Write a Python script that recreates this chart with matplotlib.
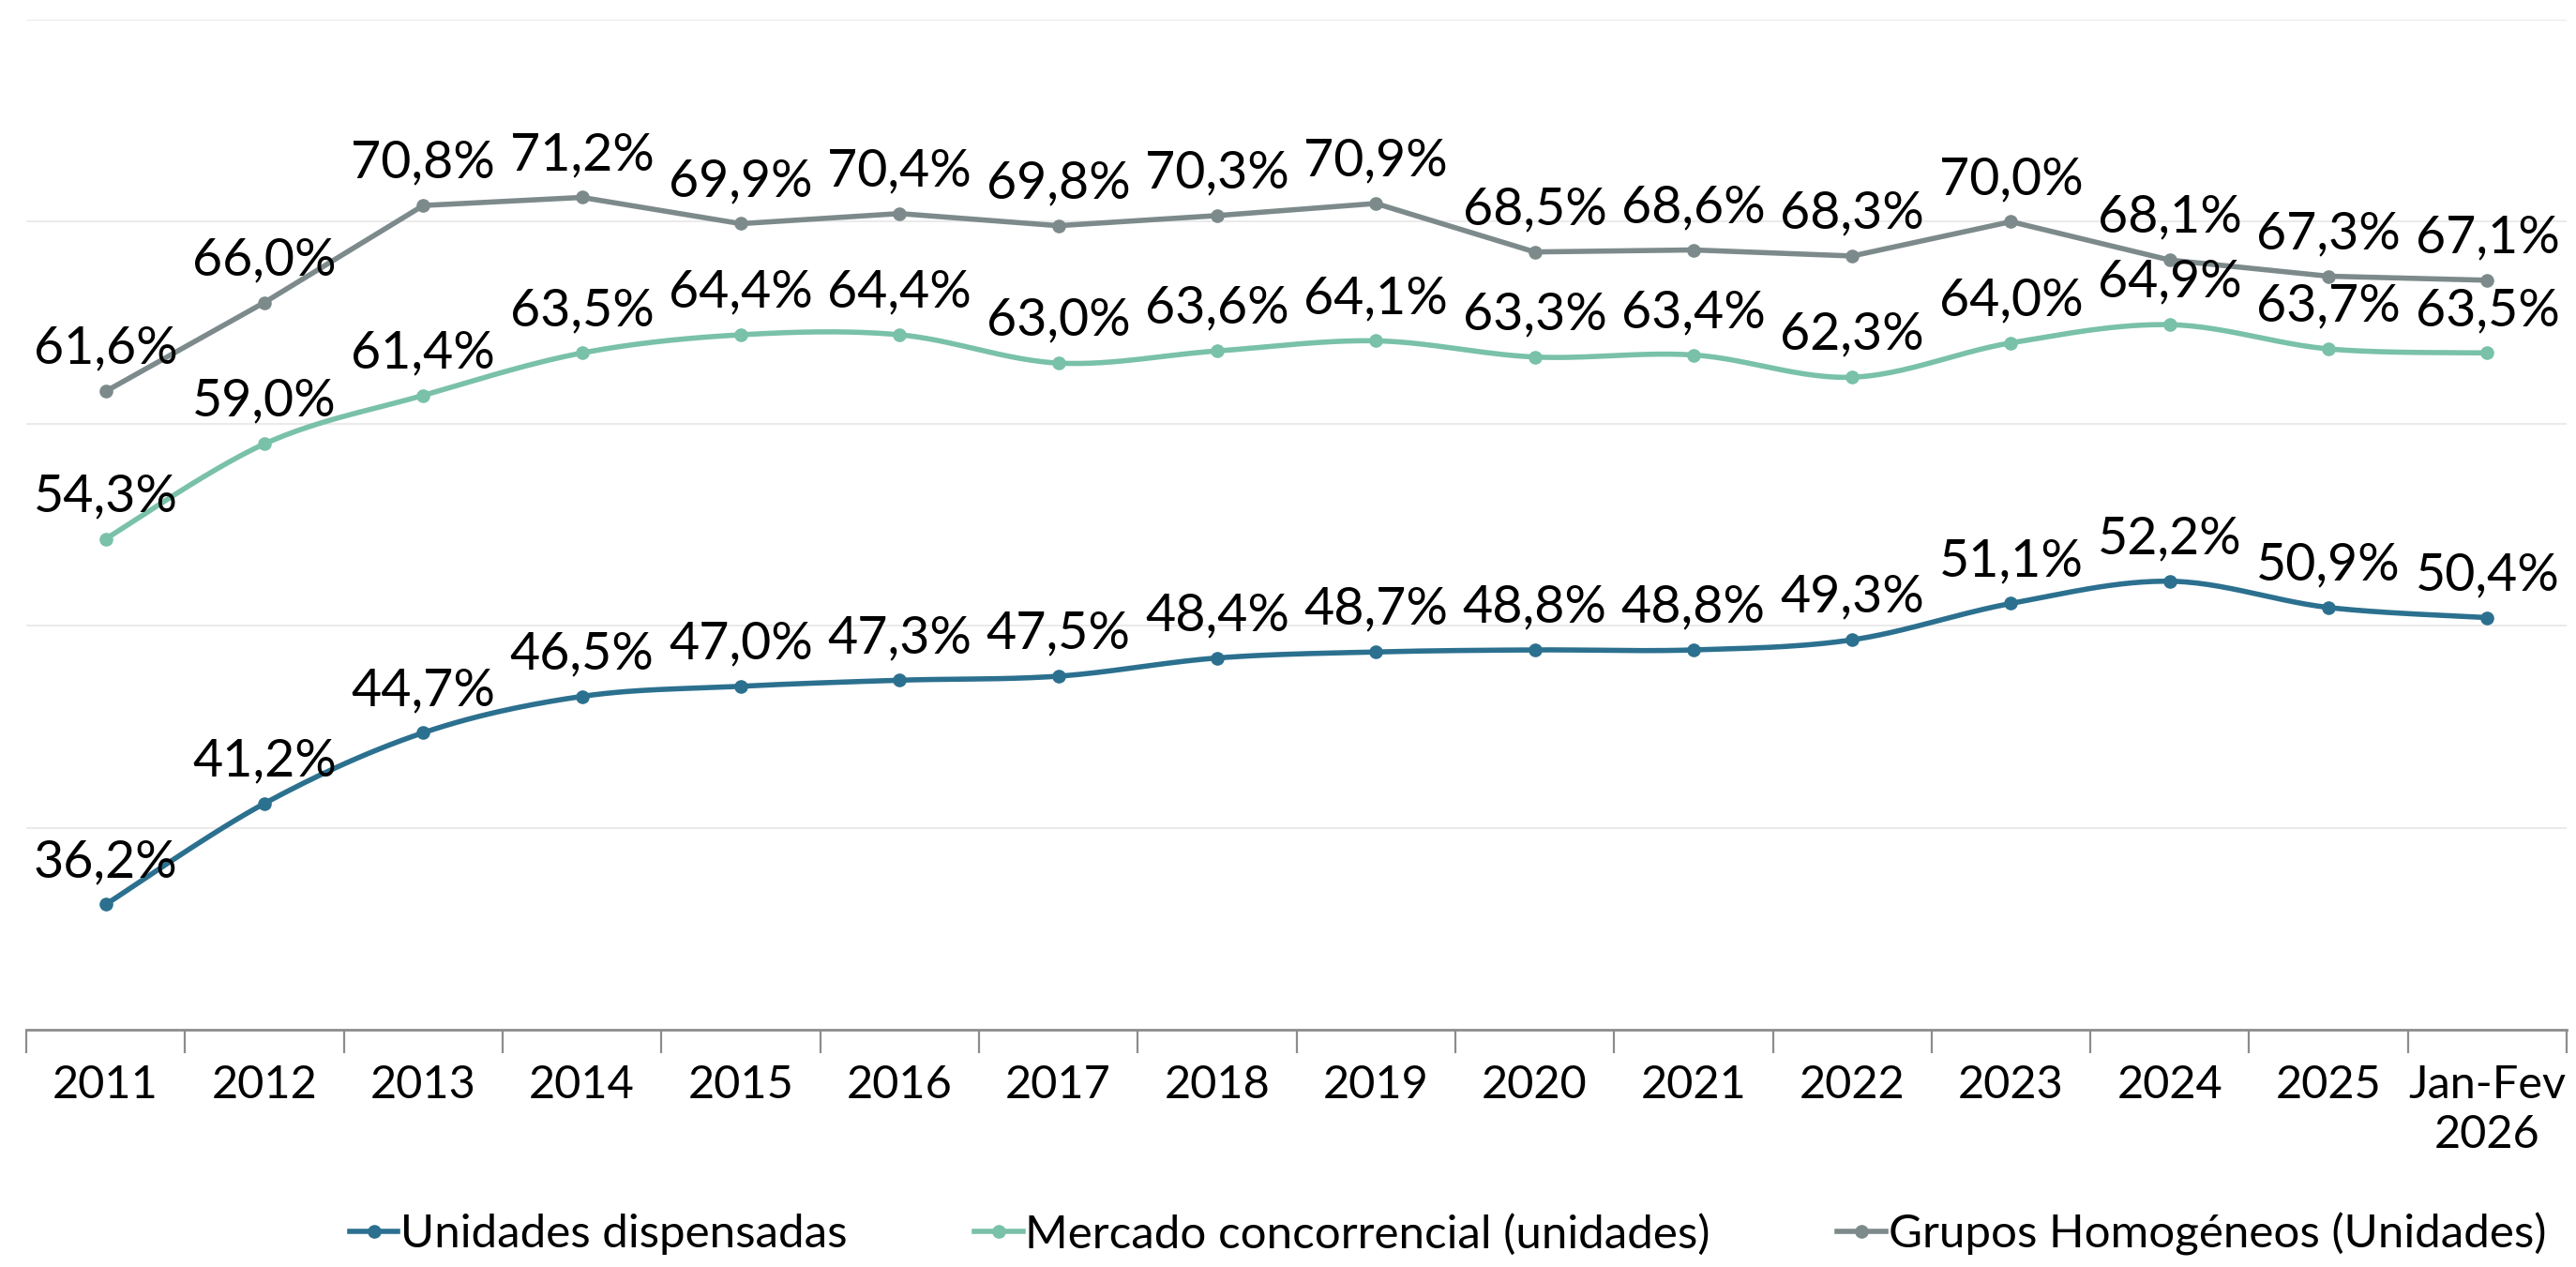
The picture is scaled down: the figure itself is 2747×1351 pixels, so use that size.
import numpy as np
import matplotlib
matplotlib.use("Agg")
import matplotlib.pyplot as plt
from matplotlib.lines import Line2D

plt.rcParams['font.family'] = ['Lato', 'DejaVu Sans']

categories = ["2011", "2012", "2013", "2014", "2015", "2016", "2017", "2018",
              "2019", "2020", "2021", "2022", "2023", "2024", "2025", "Jan-Fev\n2026"]
unidades = [36.2, 41.2, 44.7, 46.5, 47.0, 47.3, 47.5, 48.4, 48.7, 48.8, 48.8, 49.3, 51.1, 52.2, 50.9, 50.4]
mercado = [54.3, 59.0, 61.4, 63.5, 64.4, 64.4, 63.0, 63.6, 64.1, 63.3, 63.4, 62.3, 64.0, 64.9, 63.7, 63.5]
grupos = [61.6, 66.0, 70.8, 71.2, 69.9, 70.4, 69.8, 70.3, 70.9, 68.5, 68.6, 68.3, 70.0, 68.1, 67.3, 67.1]

series_names = ["Unidades dispensadas", "Mercado concorrencial (unidades)", "Grupos Homogéneos (Unidades)"]
colors = ["#2C708F", "#79C1A8", "#7D8A8C"]
smooth_flags = [True, True, False]


def smooth_curve(x, y, n=30):
    x = np.asarray(x, float); y = np.asarray(y, float)
    xs, ys = [], []
    for i in range(len(x) - 1):
        p0 = np.array([x[max(i - 1, 0)], y[max(i - 1, 0)]])
        p1 = np.array([x[i], y[i]])
        p2 = np.array([x[i + 1], y[i + 1]])
        p3 = np.array([x[min(i + 2, len(x) - 1)], y[min(i + 2, len(x) - 1)]])
        c1 = p1 + (p2 - p0) / 6.0
        c2 = p2 - (p3 - p1) / 6.0
        t = np.linspace(0, 1, n)[:, None]
        pts = ((1 - t) ** 3) * p1 + 3 * ((1 - t) ** 2) * t * c1 + 3 * (1 - t) * t ** 2 * c2 + t ** 3 * p2
        xs.extend(pts[:, 0]); ys.extend(pts[:, 1])
    return np.array(xs), np.array(ys)


fig = plt.figure(figsize=(27.47, 13.51), dpi=100)
ax = fig.add_axes([0.0102, 0.1873, 0.9862, 0.7972])

x = np.arange(len(categories))
data = [unidades, mercado, grupos]
for vals, col, sm in zip(data, colors, smooth_flags):
    if sm:
        sx, sy = smooth_curve(x, vals)
    else:
        sx, sy = x, np.array(vals)
    ax.plot(sx, sy, color=col, lw=4.0, solid_capstyle='round', zorder=3)
    ax.plot(x, vals, 'o', color=col, ms=9.5, zorder=4)
    for xi, v in zip(x, vals):
        ax.annotate(f"{v:.1f}%".replace('.', ','), (xi, v), xytext=(0, 14),
                    textcoords='offset points', ha='center', va='bottom',
                    fontsize=40, color='black', zorder=5)

ax.set_xlim(-0.5, len(categories) - 0.5)
ax.set_ylim(30, 80)
ax.set_yticks([40, 50, 60, 70, 80])
ax.yaxis.grid(True, color='#E6E6E6', lw=1.2)
ax.set_axisbelow(True)
ax.tick_params(axis='y', left=False, labelleft=False)

ax.set_xticks(x)
ax.set_xticklabels(categories, fontsize=35, linespacing=1.25)
ax.set_xticks(np.arange(-0.5, len(categories), 1), minor=True)
ax.tick_params(axis='x', which='major', length=0, pad=27)
ax.tick_params(axis='x', which='minor', length=18, width=1.6, color='#8C8C8C', direction='out')
for s in ['top', 'right', 'left']:
    ax.spines[s].set_visible(False)
ax.spines['bottom'].set_color('#8C8C8C')
ax.spines['bottom'].set_linewidth(2)

handles = [Line2D([0], [0], color=c, lw=4.0, marker='o', ms=9.5) for c in colors]
fig.legend(handles, series_names, loc='center', bbox_to_anchor=(0.562, 0.026), ncol=3,
           frameon=False, fontsize=35.5, handlelength=1.05, handletextpad=0.05, columnspacing=2.75)

fig.savefig("out.png", dpi=100, facecolor='white')
